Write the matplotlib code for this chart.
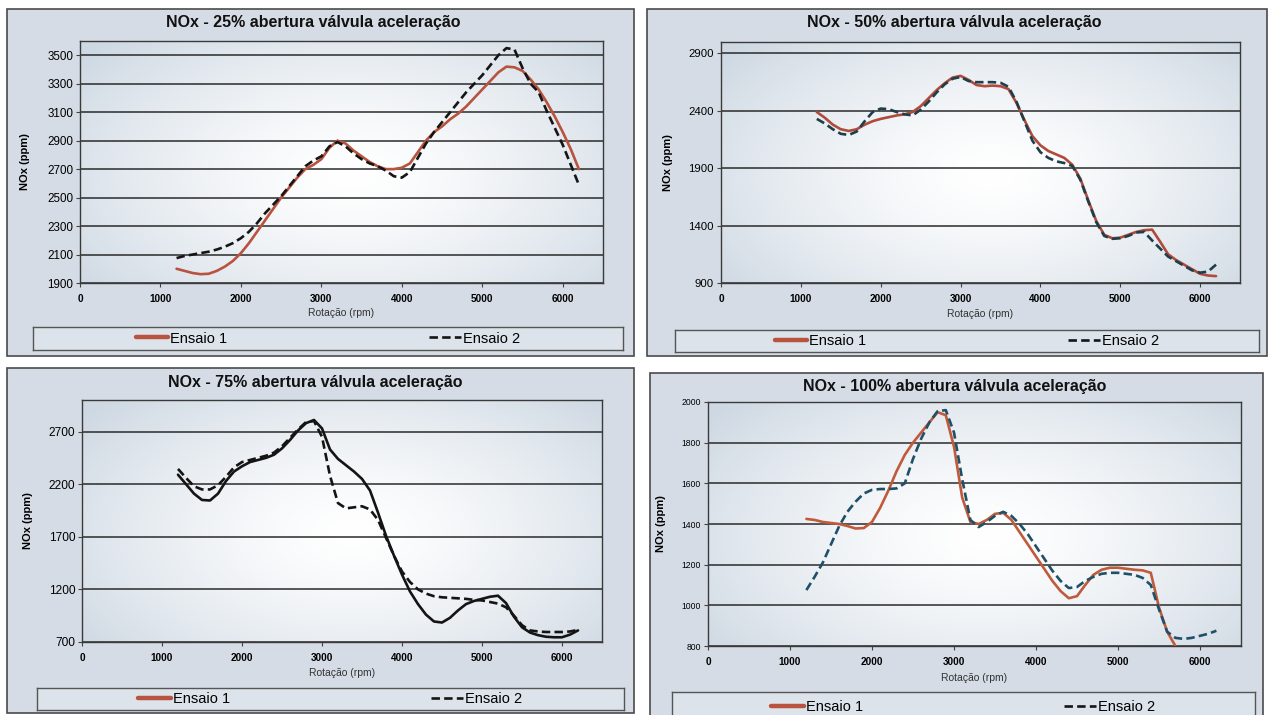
import numpy as np
import matplotlib
matplotlib.use("Agg")
import matplotlib.pyplot as plt
from matplotlib.patches import Rectangle

plt.rcParams['font.family'] = ['Liberation Sans', 'DejaVu Sans']

W, H = 1269, 715

# Engine speed (rpm) at which NOx was sampled
rpm = [1200, 1300, 1400, 1500, 1600, 1700, 1800, 1900, 2000, 2100,
       2200, 2300, 2400, 2500, 2600, 2700, 2800, 2900, 3000, 3100,
       3200, 3300, 3400, 3500, 3600, 3700, 3800, 3900, 4000, 4100,
       4200, 4300, 4400, 4500, 4600, 4700, 4800, 4900, 5000, 5100,
       5200, 5300, 5400, 5500, 5600, 5700, 5800, 5900, 6000, 6100,
       6200]

# --- 25% throttle ---
nox25_e1 = [2000, 1985, 1970, 1962, 1965, 1985, 2015, 2055, 2110, 2180,
            2260, 2340, 2420, 2500, 2570, 2640, 2700, 2730, 2770, 2850,
            2900, 2880, 2830, 2790, 2750, 2720, 2700, 2700, 2710, 2740,
            2820, 2900, 2960, 3000, 3050, 3090, 3140, 3200, 3260, 3320,
            3380, 3420, 3415, 3390, 3330, 3260, 3170, 3070, 2960, 2840,
            2700]
nox25_e2 = [2075, 2090, 2100, 2110, 2120, 2135, 2155, 2180, 2215, 2260,
            2320, 2390, 2450, 2510, 2580, 2650, 2720, 2760, 2790, 2860,
            2890, 2860, 2810, 2770, 2740, 2720, 2690, 2650, 2640, 2680,
            2780, 2880, 2960, 3030, 3100, 3170, 3240, 3300, 3360, 3430,
            3500, 3550, 3540, 3410, 3300, 3240, 3110, 2990, 2870, 2730,
            2590]

# --- 50% throttle ---
nox50_e1 = [2390, 2340, 2280, 2240, 2225, 2240, 2280, 2310, 2330, 2345,
            2360, 2370, 2390, 2440, 2510, 2580, 2640, 2690, 2705, 2670,
            2625, 2615, 2620, 2615, 2590, 2470, 2320, 2180, 2100, 2050,
            2020, 1990, 1930, 1810, 1620, 1440, 1320, 1290, 1295, 1320,
            1345, 1360, 1365, 1260, 1150, 1100, 1060, 1020, 980, 965,
            960]
nox50_e2 = [2330, 2290, 2240, 2200, 2190, 2220, 2310, 2390, 2420, 2415,
            2390, 2370, 2360, 2410, 2480, 2560, 2630, 2680, 2695, 2660,
            2650, 2650, 2650, 2645, 2610, 2480, 2310, 2140, 2040, 1990,
            1960, 1945, 1920, 1800, 1610, 1430, 1310, 1285, 1290, 1310,
            1340, 1345, 1270, 1200, 1130, 1090, 1050, 1010, 990, 1000,
            1060]

# --- 75% throttle ---
nox75_e1 = [2290, 2200, 2110, 2050, 2045, 2110, 2230, 2320, 2370, 2410,
            2430, 2450, 2480, 2540, 2620, 2710, 2780, 2810, 2730, 2530,
            2440, 2380, 2320, 2250, 2140, 1930, 1710, 1520, 1340, 1180,
            1060, 960, 895, 885, 930, 1000, 1060, 1090, 1110, 1130,
            1140, 1070, 940, 840, 790, 765, 750, 745, 745, 770,
            810]
nox75_e2 = [2345, 2260, 2180, 2150, 2150, 2190, 2270, 2360, 2410, 2430,
            2450, 2470, 2500, 2560, 2640, 2720, 2790, 2800, 2650, 2280,
            2020, 1970, 1980, 1990, 1960, 1860, 1690, 1520, 1370, 1270,
            1200, 1160, 1135, 1125, 1120, 1115, 1110, 1100, 1095, 1080,
            1065, 1030, 950, 860, 810, 800, 795, 795, 795, 800,
            815]

# --- 100% throttle (run 1 stops at 5700 rpm) ---
rpm100_e1 = rpm[:46]
nox100_e1 = [1425, 1420, 1410, 1405, 1400, 1390, 1378, 1380, 1410, 1480,
             1565, 1660, 1740, 1800, 1850, 1900, 1950, 1935, 1780, 1530,
             1410, 1400, 1420, 1450, 1455, 1420, 1360, 1300, 1240, 1180,
             1120, 1070, 1035, 1045, 1100, 1150, 1175, 1185, 1185, 1180,
             1175, 1172, 1160, 990, 870, 800]
nox100_e2 = [1075, 1140, 1210, 1300, 1390, 1460, 1510, 1550, 1568, 1572,
             1572, 1575, 1600, 1720, 1820, 1900, 1955, 1960, 1850, 1620,
             1420, 1385, 1410, 1440, 1460, 1440, 1400, 1350, 1290, 1230,
             1170, 1120, 1085, 1090, 1120, 1140, 1155, 1160, 1160, 1155,
             1150, 1135, 1100, 980, 870, 840, 835, 840, 850, 860,
             875]

x_ticks = [0, 1000, 2000, 3000, 4000, 5000, 6000]

panels = [
    dict(title="NOx - 25% abertura válvula aceleração",
         frame=(7, 9, 634, 356), plot=(80, 41, 603, 283),
         legend=(33, 327, 623, 350), title_xy=(313, 22),
         ylim=(1900, 3600), yticks=[1900, 2100, 2300, 2500, 2700, 2900, 3100, 3300, 3500],
         x1=rpm, y1=nox25_e1, x2=rpm, y2=nox25_e2,
         c1='#b8533f', c2='#151515', ytick_fs=8.4, ylab_x=30, xlab_y=308),
    dict(title="NOx - 50% abertura válvula aceleração",
         frame=(647, 9, 1267, 356), plot=(721, 42, 1240, 283),
         legend=(675, 330, 1259, 352), title_xy=(954, 23),
         ylim=(900, 3000), yticks=[900, 1400, 1900, 2400, 2900],
         x1=rpm, y1=nox50_e1, x2=rpm, y2=nox50_e2,
         c1='#b04a3c', c2='#1c3f4a', ytick_fs=8.2, ylab_x=673, xlab_y=309),
    dict(title="NOx - 75% abertura válvula aceleração",
         frame=(7, 368, 634, 713), plot=(82, 400, 602, 642),
         legend=(37, 688, 624, 710), title_xy=(315, 382),
         ylim=(700, 3000), yticks=[700, 1200, 1700, 2200, 2700],
         x1=rpm, y1=nox75_e1, x2=rpm, y2=nox75_e2,
         c1='#141414', c2='#141414', ytick_fs=8.6, ylab_x=33, xlab_y=668),
    dict(title="NOx - 100% abertura válvula aceleração",
         frame=(650, 373, 1263, 722), plot=(708, 402, 1241, 646),
         legend=(672, 692, 1255, 722), title_xy=(955, 387),
         ylim=(800, 2000), yticks=[800, 1000, 1200, 1400, 1600, 1800, 2000],
         x1=rpm100_e1, y1=nox100_e1, x2=rpm, y2=nox100_e2,
         c1='#c05a3a', c2='#1f5068', ytick_fs=6.2, ylab_x=666, xlab_y=673),
]


def fig_rect(x0, y0, x1, y1):
    return [x0 / W, 1 - y1 / H, (x1 - x0) / W, (y1 - y0) / H]


fig = plt.figure(figsize=(W / 100, H / 100), dpi=100)
fig.patch.set_facecolor('white')

# soft radial shading used behind each plot area
gy, gx = np.mgrid[0:1:200j, 0:1:300j]
dist = np.sqrt(((gx - 0.52) / 0.65) ** 2 + ((gy - 0.55) / 0.8) ** 2)
shade = np.clip(dist, 0, 1) ** 1.4
edge = np.array([0.81, 0.85, 0.89])
centre = np.array([1.0, 1.0, 1.0])
grad = centre[None, None, :] * (1 - shade[..., None]) + edge[None, None, :] * shade[..., None]

for p in panels:
    fx0, fy0, fx1, fy1 = p['frame']
    fig.add_artist(Rectangle((fx0 / W, 1 - fy1 / H), (fx1 - fx0) / W, (fy1 - fy0) / H,
                             transform=fig.transFigure, facecolor='#d5dce5',
                             edgecolor='#4a4a4a', linewidth=1.2, zorder=0))

    px0, py0, px1, py1 = p['plot']
    ax = fig.add_axes(fig_rect(px0, py0, px1, py1))
    ax.set_facecolor('#e8edf2')
    ax.imshow(grad, extent=[0, 1, 0, 1], transform=ax.transAxes, aspect='auto',
              zorder=-1, interpolation='bilinear')

    l1, = ax.plot(p['x1'], p['y1'], color=p['c1'], lw=1.9, solid_capstyle='round', zorder=3)
    l2, = ax.plot(p['x2'], p['y2'], color=p['c2'], lw=1.9, linestyle=(0, (3.2, 1.6)), zorder=4)

    ax.set_xlim(0, 6500)
    ax.set_ylim(*p['ylim'])
    ax.set_xticks(x_ticks)
    ax.set_xticklabels([str(v) for v in x_ticks], fontsize=7.2, fontweight='bold')
    ax.set_yticks(p['yticks'])
    ax.set_yticklabels([str(v) for v in p['yticks']], fontsize=p['ytick_fs'])
    ax.tick_params(axis='x', direction='out', length=3, width=0.8, color='#444', pad=5)
    ax.tick_params(axis='y', direction='out', length=3, width=0.8, color='#444', pad=2)
    ax.yaxis.grid(True, color='#2a2a2a', linewidth=1.1)
    ax.set_axisbelow(True)
    for s in ax.spines.values():
        s.set_color('#3a3a3a')
        s.set_linewidth(1.0)

    wpx, hpx = px1 - px0, py1 - py0
    ax.set_ylabel("NOx (ppm)", fontsize=8, fontweight='bold')
    ax.yaxis.set_label_coords((p['ylab_x'] - px0) / wpx, 0.5)
    ax.set_xlabel("Rotação (rpm)", fontsize=7.5, color='#333')
    ax.xaxis.set_label_coords(0.5, -(p['xlab_y'] - py1) / hpx)

    fig.text(p['title_xy'][0] / W, 1 - p['title_xy'][1] / H, p['title'],
             ha='center', va='center', fontsize=11.5, fontweight='bold', color='#111')

    lx0, ly0, lx1, ly1 = p['legend']
    lax = fig.add_axes(fig_rect(lx0, ly0, lx1, ly1))
    lax.set_facecolor('#dde3ea')
    lax.set_xticks([])
    lax.set_yticks([])
    for s in lax.spines.values():
        s.set_color('#555')
        s.set_linewidth(1.0)
    leg = lax.legend([l1, l2], ["Ensaio 1", "Ensaio 2"], loc='center', ncol=2,
                     frameon=False, fontsize=10.5, handlelength=2.2,
                     handletextpad=0.15, columnspacing=13.8, borderaxespad=0)
    legl = leg.get_lines()
    legl[0].set_color('#b8533f')
    legl[0].set_linewidth(3.2)
    legl[1].set_color('#151515')

fig.savefig("out.png", dpi=100)
